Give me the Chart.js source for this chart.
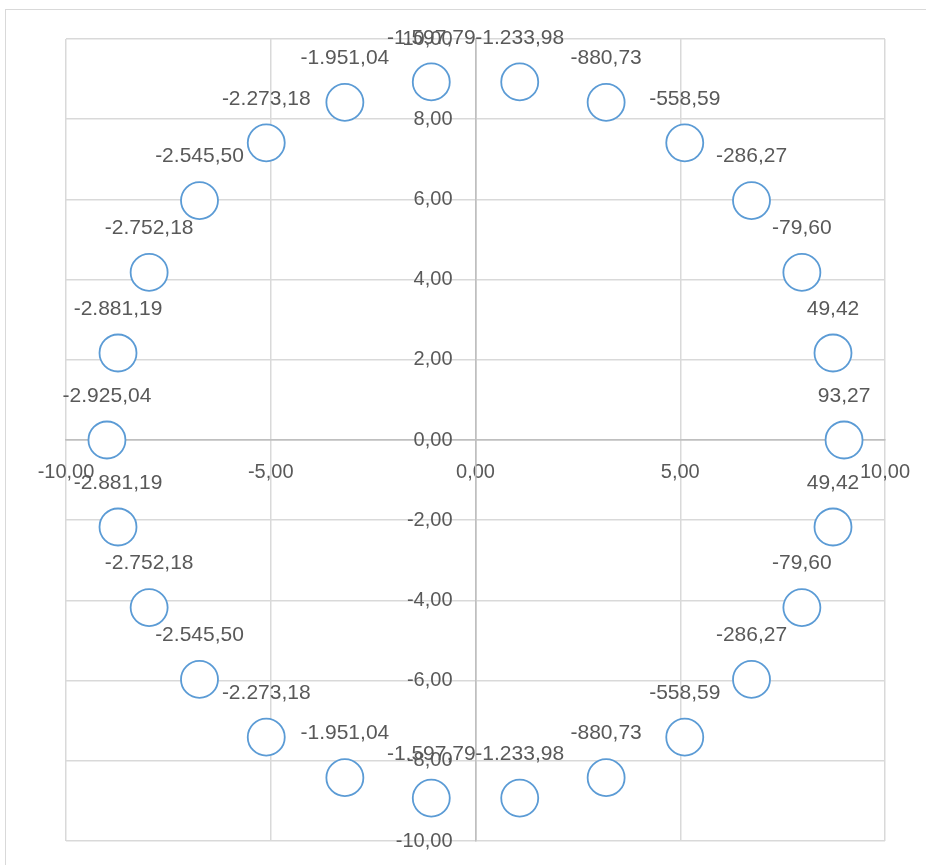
<!DOCTYPE html>
<html>
<head>
<meta charset="utf-8">
<script src="https://cdn.jsdelivr.net/npm/chart.js@4/dist/chart.umd.min.js"></script>
<style>
  html, body { margin: 0; padding: 0; background: #fff; overflow: hidden; }
  #wrap { position: relative; width: 926px; height: 865px; }
  #frame { position: absolute; left: 5px; top: 9px; width: 1000px; height: 1000px; border: 1.5px solid #d9d9d9; box-sizing: border-box; }
  canvas { position: absolute; left: 0; top: 0; }
</style>
</head>
<body>
<div id="wrap">
  <div id="frame"></div>
  <canvas id="chart" width="926" height="865"></canvas>
</div>
<script>
// points, going round from the right-hand side
const xValues = [9.00, 8.73, 7.97, 6.74, 5.11, 3.19, 1.08, -1.08, -3.19, -5.11, -6.74, -7.97, -8.73,
  -9.00, -8.73, -7.97, -6.74, -5.11, -3.19, -1.08, 1.08, 3.19, 5.11, 6.74, 7.97, 8.73];
const yValues = [0.00, 2.17, 4.18, 5.97, 7.41, 8.42, 8.93, 8.93, 8.42, 7.41, 5.97, 4.18, 2.17,
  0.00, -2.17, -4.18, -5.97, -7.41, -8.42, -8.93, -8.93, -8.42, -7.41, -5.97, -4.18, -2.17];
const pointLabels = [93.27, 49.42, -79.60, -286.27, -558.59, -880.73, -1233.98, -1597.79, -1951.04,
  -2273.18, -2545.50, -2752.18, -2881.19, -2925.04, -2881.19, -2752.18, -2545.50, -2273.18, -1951.04,
  -1597.79, -1233.98, -880.73, -558.59, -286.27, -79.60, 49.42];

const xTicks = [-10, -5, 0, 5, 10];
const yTicks = [-10, -8, -6, -4, -2, 0, 2, 4, 6, 8, 10];

const textColor = '#595959';
const gridColor = '#d9d9d9';
const axisColor = '#bfbfbf';
const fontFamily = '"Liberation Sans", Arial, sans-serif';

// 1234.5 -> "1.234,50"
function fmt(v) {
  const neg = v < 0;
  const parts = Math.abs(v).toFixed(2).split('.');
  const int = parts[0].replace(/\B(?=(\d{3})+(?!\d))/g, '.');
  return (neg ? '-' : '') + int + ',' + parts[1];
}

// let layout.padding alone decide the plot box
function noScalePadding(s) {
  s.paddingLeft = 0;
  s.paddingRight = 0;
  s.paddingTop = 0;
  s.paddingBottom = 0;
}

// y tick labels sit left of the crossing axis; chart.js ignores padding there
const yAxisLabels = {
  id: 'yAxisLabels',
  afterDraw(chart) {
    const ctx = chart.ctx;
    const xs = chart.scales.x;
    const ys = chart.scales.y;
    const px = xs.getPixelForValue(0) - 23;
    ctx.save();
    ctx.font = '20px ' + fontFamily;
    ctx.fillStyle = textColor;
    ctx.textAlign = 'right';
    ctx.textBaseline = 'middle';
    yTicks.forEach((v) => ctx.fillText(fmt(v), px, ys.getPixelForValue(v)));
    ctx.restore();
  }
};

const valueLabels = {
  id: 'valueLabels',
  afterDatasetsDraw(chart) {
    const ctx = chart.ctx;
    const meta = chart.getDatasetMeta(0);
    ctx.save();
    ctx.font = '21px ' + fontFamily;
    ctx.fillStyle = textColor;
    ctx.textAlign = 'center';
    ctx.textBaseline = 'middle';
    meta.data.forEach((pt, i) => {
      ctx.fillText(fmt(pointLabels[i]), pt.x, pt.y - 44);
    });
    ctx.restore();
  }
};

const points = xValues.map((x, i) => ({ x, y: yValues[i] }));

new Chart(document.getElementById('chart'), {
  type: 'scatter',
  data: {
    datasets: [{
      data: points,
      pointRadius: 18.5,
      pointHoverRadius: 18.5,
      pointBorderWidth: 1.8,
      borderColor: '#5b9bd5',
      backgroundColor: '#ffffff'
    }]
  },
  options: {
    responsive: false,
    devicePixelRatio: 1,
    animation: false,
    layout: { padding: { left: 66, right: 41, top: 39, bottom: 24 } },
    plugins: {
      legend: { display: false },
      tooltip: { enabled: false }
    },
    scales: {
      x: {
        type: 'linear',
        min: -10,
        max: 10,
        position: { y: 0 },
        afterBuildTicks: (s) => { s.ticks = xTicks.map((v) => ({ value: v })); },
        afterFit: noScalePadding,
        ticks: {
          padding: 20.5,
          color: textColor,
          font: { family: fontFamily, size: 20 },
          maxRotation: 0,
          autoSkip: false,
          callback: (v) => fmt(v)
        },
        grid: {
          drawTicks: false,
          lineWidth: 1.5,
          color: (c) => (c.tick && c.tick.value === 0 ? axisColor : gridColor)
        },
        border: { display: true, color: axisColor, width: 1.5 }
      },
      y: {
        type: 'linear',
        min: -10,
        max: 10,
        position: { x: 0 },
        afterBuildTicks: (s) => { s.ticks = yTicks.map((v) => ({ value: v })); },
        afterFit: noScalePadding,
        ticks: { display: false },
        grid: {
          drawTicks: false,
          lineWidth: 1.5,
          color: (c) => (c.tick && c.tick.value === 0 ? axisColor : gridColor)
        },
        border: { display: true, color: axisColor, width: 1.5 }
      }
    }
  },
  plugins: [valueLabels, yAxisLabels]
});
</script>
</body>
</html>
